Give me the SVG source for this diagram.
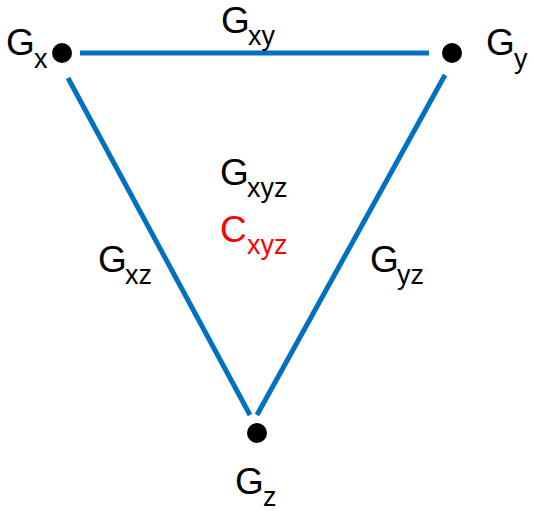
<svg xmlns="http://www.w3.org/2000/svg" width="534" height="511" viewBox="0 0 534 511">
<style>
.e{stroke:#0070C0;stroke-width:5;fill:none}
.d{fill:#000}
.g{font-family:"Liberation Sans",Arial,sans-serif;font-size:37px;fill:#000}
.s{font-family:"Liberation Sans",Arial,sans-serif;font-size:27px;fill:#000}
.r{fill:#FF0000}
</style>
<rect width="534" height="511" fill="#fff"/>
<g id="connectors">
<line class="e" x1="80" y1="53" x2="429" y2="53"/>
<line class="e" x1="68" y1="78" x2="250" y2="415"/>
<line class="e" x1="445" y1="75" x2="257" y2="415"/>
</g>
<g id="node-x">
<circle class="d" cx="62" cy="53" r="10"/>
<text class="g" x="6" y="55">G</text>
<text class="s" x="34" y="68">x</text>
</g>
<g id="node-y">
<circle class="d" cx="452" cy="53" r="10"/>
<text class="g" x="486" y="55">G</text>
<text class="s" x="514" y="68">y</text>
</g>
<g id="node-z">
<circle class="d" cx="257" cy="433" r="10"/>
<text class="g" x="235" y="494">G</text>
<text class="s" x="263" y="506">z</text>
</g>
<g id="label-xy">
<text class="g" x="221" y="33">G</text>
<text class="s" x="248" y="45">xy</text>
</g>
<g id="label-xz">
<text class="g" x="98" y="272">G</text>
<text class="s" x="125" y="284">xz</text>
</g>
<g id="label-yz">
<text class="g" x="370" y="272">G</text>
<text class="s" x="397" y="284">yz</text>
</g>
<g id="center">
<text class="g" x="220" y="185">G</text>
<text class="s" x="247" y="197">xyz</text>
<text class="g r" x="220" y="242">C</text>
<text class="s r" x="247" y="254">xyz</text>
</g>
</svg>
